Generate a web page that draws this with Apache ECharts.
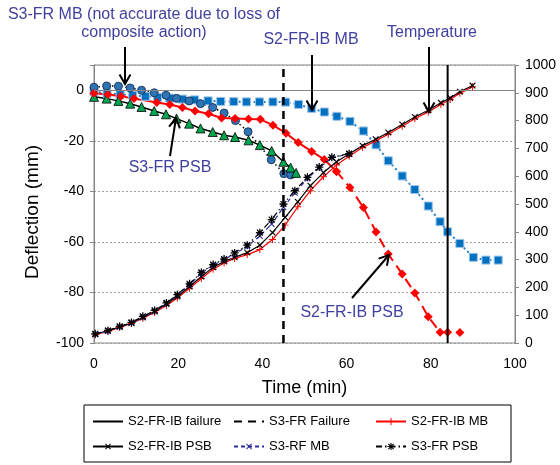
<!DOCTYPE html>
<html><head><meta charset="utf-8">
<script src="https://cdn.jsdelivr.net/npm/echarts@6/dist/echarts.min.js"></script>
<style>html,body{margin:0;padding:0;background:#fff}#c{width:560px;height:465px}</style>
</head><body><div id="c"></div>
<script>
const FONT = '"Liberation Sans", Arial, sans-serif';
// axes
const timeAxis = {min: 0, max: 100, step: 20};
const deflAxis = {min: -100, max: 10, step: 20};
const tempAxis = {min: 0, max: 1000, step: 100};
// failure times (min)
const failS2 = 84, failS3 = 45;

// Deflection S3-FR MB (blue circles)
const s3mbDefT = [0, 3, 5.8, 8.6, 11.3, 14.3, 17.1, 19.6, 22.6, 25.3, 28.2, 30.9, 33.6, 36.6, 42.1, 45.1, 46.7];
const s3mbDefD = [1.2, 1.7, 1.6, 0.9, 0, -1, -2, -3.2, -4.2, -5.3, -6.8, -9, -12, -16.4, -27.5, -33, -33.5];
// Deflection S3-FR PSB (green triangles)
const s3psbDefT = [0, 3, 5.8, 8.6, 11.3, 14.3, 17.1, 19.6, 22.6, 25.3, 28.2, 30.9, 33.5, 36.7, 39.4, 42.2, 45, 46.7, 48];
const s3psbDefD = [-2.6, -3.3, -4.2, -5.3, -6.6, -8.2, -9.5, -11.2, -13.2, -15.1, -16.5, -17.8, -18.5, -19.8, -21.7, -24, -28.3, -30.6, -32.7];
// Deflection S2-FR-IB MB (blue squares)
const s2mbDefT = [0, 3.1, 6.2, 9.2, 12.2, 15.1, 18, 21, 23.9, 27.1, 30.1, 33.2, 36.2, 39.3, 42.5, 45.5, 48.6, 51.7, 54.7, 57.7, 60.8, 64, 67, 69.9, 73.2, 76.2, 79.4, 82.2, 84, 86.9, 90.1, 93.1, 96];
const s2mbDefD = [-0.6, -1.2, -1.6, -2, -2.4, -2.8, -3.1, -3.5, -3.8, -4.2, -4.4, -4.5, -4.6, -4.6, -4.6, -4.7, -5.6, -7.2, -8.6, -10.3, -12.3, -16.1, -21.6, -27.9, -33.9, -39.3, -45.8, -52, -56, -60.6, -66.1, -67.2, -67.2];
// Deflection S2-FR-IB PSB (red diamonds): solid part, then dashed part
const s2psbDefT1 = [0, 3.3, 6.4, 9.5, 14.9, 18, 21, 24, 27.2, 30.3, 33.5, 36.7, 39.5, 42.5, 45.6, 48.5, 51.7, 54.7, 57.6];
const s2psbDefD1 = [-1.2, -1.7, -2.4, -3.3, -4.8, -5.6, -6.8, -8.2, -9.3, -11, -11.2, -11.4, -11.5, -13.8, -17, -20.7, -24.2, -27.4, -32.1];
const s2psbDefT2 = [57.6, 60.8, 64, 67, 69.9, 73.2, 76.2, 79.4, 82.2, 84, 86.9];
const s2psbDefD2 = [-32.1, -38.5, -46.4, -56.1, -64.8, -72.7, -80.2, -89.6, -95.7, -95.7, -95.8];

// Temperatures (deg C), S2-FR-IB
const s2TempT = [0.3, 3.3, 6.1, 8.9, 11.6, 14.4, 17.2, 19.8, 22.7, 25.5, 28.3, 30.9, 33.4, 36.4, 39.4, 42.4, 45.4, 48.4, 51.4, 54.5, 57.6, 60.6, 63.8, 66.9, 69.9, 73.2, 76.2, 79.4, 82.4, 84.6, 86.9, 89.9];
const s2mbTemp  = [30, 42, 56, 70, 89, 110, 135, 162, 197, 232, 265, 288, 304, 318, 336, 372, 424, 490, 548, 598, 640, 672, 703, 727, 751, 780, 807, 831, 858, 876, 898, 922];
const s2psbTemp = [32, 44, 58, 72, 92, 113, 140, 167, 203, 239, 272, 293, 308, 325, 352, 397, 452, 508, 566, 613, 652, 680, 710, 733, 757, 786, 813, 837, 864, 881, 904, 926];
// Temperatures, S3-FR
const s3TempT = [0.3, 3.3, 6.1, 8.9, 11.6, 14.4, 17.2, 19.8, 22.7, 25.5, 28.3, 30.9, 33.4, 36.4, 39.4, 42.2, 45, 47.7, 50.7, 53.5, 56.5, 60.6];
const s3mbTemp  = [31, 43, 58, 72, 94, 115, 142, 172, 210, 251, 280, 300, 321, 347, 385, 428, 488, 540, 592, 630, 666, 680];
const s3psbTemp = [33, 45, 60, 74, 96, 117, 144, 174, 213, 254, 282, 302, 324, 352, 397, 444, 500, 548, 596, 633, 668, 681];

const zip = (a, b) => a.map((v, i) => [v, b[i]]);

const PLUS = 'path://M0,4.3 L10,4.3 L10,5.7 L0,5.7 Z M4.3,0 L5.7,0 L5.7,10 L4.3,10 Z';
const ASTER = 'path://M0,4.2 L10,4.2 L10,5.8 L0,5.8 Z M4.2,0 L5.8,0 L5.8,10 L4.2,10 Z M0.8,1.9 L1.9,0.8 L9.2,8.1 L8.1,9.2 Z M8.1,0.8 L9.2,1.9 L1.9,9.2 L0.8,8.1 Z';

const chart = echarts.init(document.getElementById('c'), null, {renderer: 'canvas'});

function arrow(x1, y1, x2, y2) {
  const ang = Math.atan2(y2 - y1, x2 - x1), L = 11, a = 0.52;
  return [
    {type: 'line', shape: {x1, y1, x2, y2}, style: {stroke: '#000', lineWidth: 2}, z: 100},
    {type: 'polyline', shape: {points: [[x2 - L * Math.cos(ang - a), y2 - L * Math.sin(ang - a)], [x2, y2], [x2 - L * Math.cos(ang + a), y2 - L * Math.sin(ang + a)]]},
     style: {stroke: '#000', lineWidth: 2, fill: null}, z: 100}
  ];
}
const ANN = '#3f3f9f';
function label(text, x, y, size, color, rot) {
  return {type: 'text', x, y, rotation: rot || 0, z: 100,
    style: {text, font: (size || 16) + 'px ' + FONT, fill: color || ANN, align: 'center', verticalAlign: 'middle', textAlign: 'center', textVerticalAlign: 'middle'}};
}

const noMark = {color: 'rgba(0,0,0,0)', borderWidth: 0, opacity: 0};
const legendBase = {orient: 'vertical', top: 415, itemGap: 12, itemWidth: 30, itemHeight: 9, padding: 0,
  textStyle: {fontFamily: FONT, fontSize: 13, color: '#000'}, selectedMode: false};

const option = {
  animation: false,
  textStyle: {fontFamily: FONT},
  grid: {left: 94, right: 45, top: 65, bottom: 122, show: true, borderColor: '#868686', borderWidth: 1, containLabel: false},
  legend: [
    Object.assign({left: 92, data: [{name: 'S2-FR-IB failure', itemStyle: noMark}, 'S2-FR-IB PSB']}, legendBase),
    Object.assign({left: 233, data: [{name: 'S3-FR Failure', itemStyle: noMark}, 'S3-RF MB']}, legendBase),
    Object.assign({left: 375, data: ['S2-FR-IB MB', 'S3-FR PSB']}, legendBase)
  ],
  xAxis: {type: 'value', min: timeAxis.min, max: timeAxis.max, interval: timeAxis.step,
    axisLine: {show: false}, axisTick: {show: false}, splitLine: {show: false},
    axisLabel: {fontSize: 14, color: '#000', margin: 14, fontFamily: FONT},
    name: 'Time (min)', nameLocation: 'middle', nameGap: 36,
    nameTextStyle: {fontSize: 18, color: '#000', fontFamily: FONT}},
  yAxis: [
    {type: 'value', min: deflAxis.min, max: deflAxis.max, interval: deflAxis.step, position: 'left',
      axisLine: {show: true, lineStyle: {color: '#868686'}}, axisTick: {show: true, length: 4, lineStyle: {color: '#868686'}},
      splitLine: {show: true, lineStyle: {color: '#a0a0a0', type: [2, 2], width: 1}},
      axisLabel: {fontSize: 14, color: '#000', margin: 10, fontFamily: FONT, formatter: v => (v > 0 ? '' : String(v))}},
    {type: 'value', min: tempAxis.min, max: tempAxis.max, interval: tempAxis.step, position: 'right',
      axisLine: {show: true, lineStyle: {color: '#868686'}}, axisTick: {show: true, length: 4, lineStyle: {color: '#868686'}},
      splitLine: {show: false},
      axisLabel: {fontSize: 14, color: '#000', margin: 10, fontFamily: FONT, formatter: v => String(v)}}
  ],
  series: [
    {name: 'S2-FR-IB failure', type: 'line', yAxisIndex: 0, symbol: 'none', z: 6,
      data: [[failS2, deflAxis.min], [failS2, deflAxis.max]], lineStyle: {color: '#000', width: 2}, itemStyle: {color: '#000'}},
    {name: 'S3-FR Failure', type: 'line', yAxisIndex: 0, symbol: 'none', z: 6,
      data: [[failS3, deflAxis.min], [failS3, deflAxis.max]], lineStyle: {color: '#000', width: 2.5, type: [8, 6]}, itemStyle: {color: '#000'}},
    {name: 'S2-FR-IB MB', type: 'line', yAxisIndex: 1, symbol: PLUS, symbolSize: 7, z: 4,
      data: zip(s2TempT, s2mbTemp), lineStyle: {color: '#ff0000', width: 1.2}, itemStyle: {color: '#ff0000'}},
    {name: 'S2-FR-IB PSB', type: 'line', yAxisIndex: 1, symbol: PLUS, symbolRotate: 45, symbolSize: 8, z: 4,
      data: zip(s2TempT, s2psbTemp), lineStyle: {color: '#000', width: 1.2}, itemStyle: {color: '#000'}},
    {name: 'S3-RF MB', type: 'line', yAxisIndex: 1, symbol: PLUS, symbolRotate: 45, symbolSize: 8, z: 4,
      data: zip(s3TempT, s3mbTemp), lineStyle: {color: '#2e2e9a', width: 1.2, type: [4, 3]}, itemStyle: {color: '#2e2e9a'}},
    {name: 'S3-FR PSB', type: 'line', yAxisIndex: 1, symbol: ASTER, symbolSize: 8, z: 4,
      data: zip(s3TempT, s3psbTemp), lineStyle: {color: '#000', width: 1.2, type: [6, 3, 1.5, 3]}, itemStyle: {color: '#000'}},
    {name: 'S2-FR-IB MB deflection', type: 'line', yAxisIndex: 0, symbol: 'rect', symbolSize: 8, z: 3,
      data: zip(s2mbDefT, s2mbDefD), lineStyle: {color: '#1f7fd0', width: 2, type: [2, 3]},
      itemStyle: {color: '#0070c0', borderColor: '#9dc3e6', borderWidth: 1},
      markLine: {silent: true, symbol: 'none', label: {show: false}, lineStyle: {color: '#868686', type: 'solid', width: 1}, data: [{yAxis: 0}]}},
    {name: 'S3-FR MB deflection', type: 'line', yAxisIndex: 0, symbol: 'circle', symbolSize: 8, z: 3,
      data: zip(s3mbDefT, s3mbDefD), lineStyle: {color: '#000', width: 1.5, type: [1.5, 3]},
      itemStyle: {color: '#2e75b6', borderColor: '#1f3864', borderWidth: 1}},
    {name: 'S3-FR PSB deflection', type: 'line', yAxisIndex: 0, symbol: 'triangle', symbolSize: 9, z: 3,
      data: zip(s3psbDefT, s3psbDefD), lineStyle: {color: '#000', width: 1.5},
      itemStyle: {color: '#00a650', borderColor: '#000', borderWidth: 0.8}},
    {name: 'S2-FR-IB PSB deflection', type: 'line', yAxisIndex: 0, symbol: 'diamond', symbolSize: 9, z: 3,
      data: zip(s2psbDefT1, s2psbDefD1), lineStyle: {color: '#ff0000', width: 2}, itemStyle: {color: '#ff0000'}},
    {name: 'S2-FR-IB PSB deflection 2', type: 'line', yAxisIndex: 0, symbol: 'diamond', symbolSize: 9, z: 3,
      data: zip(s2psbDefT2, s2psbDefD2), lineStyle: {color: '#ff0000', width: 2, type: [10, 6]}, itemStyle: {color: '#ff0000'}}
  ],
  graphic: [].concat(
    [{type: 'rect', shape: {x: 84, y: 405, width: 427, height: 57}, style: {stroke: '#000', lineWidth: 1, fill: null}, z: 100}],
    [label('Deflection (mm)', 33, 212, 19, '#000', Math.PI / 2)],
    [label('S3-FR MB (not accurate due to loss of', 144, 15),
     label('composite action)', 144, 33),
     label('S2-FR-IB MB', 311, 40),
     label('Temperature', 432, 33),
     label('S3-FR PSB', 170, 168),
     label('S2-FR-IB PSB', 352, 313)],
    arrow(125, 47, 125, 84),
    arrow(312, 55, 312, 110),
    arrow(429, 47, 429, 112),
    arrow(170, 156, 176, 118),
    arrow(352, 298, 389, 255)
  )
};
chart.setOption(option);
</script>
</body></html>
